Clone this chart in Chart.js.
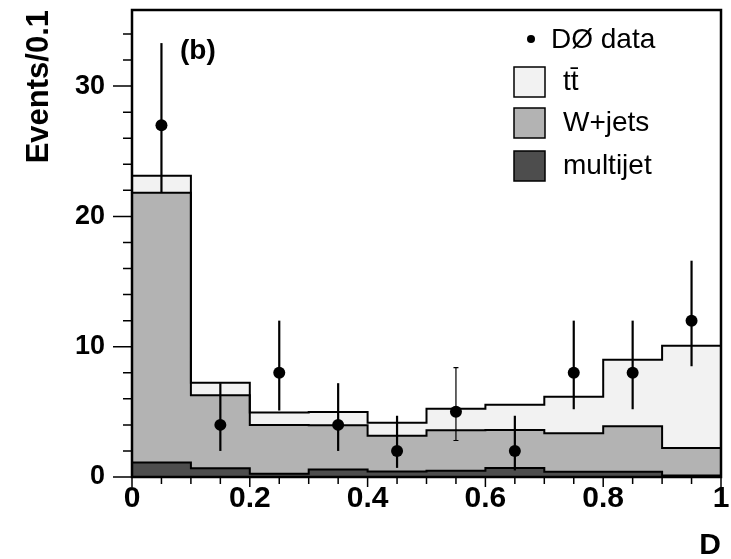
<!DOCTYPE html>
<html>
<head>
<meta charset="utf-8">
<script src="https://cdn.jsdelivr.net/npm/chart.js@4.4.0/dist/chart.umd.min.js"></script>
<style>
  body { margin: 0; background: #fff; }
</style>
</head>
<body>
<canvas id="chart" width="731" height="559"></canvas>
<script>
// bins of the discriminant D
const binEdges = [0, 0.1, 0.2, 0.3, 0.4, 0.5, 0.6, 0.7, 0.8, 0.9, 1.0];
const binCenters = [0.05, 0.15, 0.25, 0.35, 0.45, 0.55, 0.65, 0.75, 0.85, 0.95];

// predicted contributions per bin (stacked: multijet, W+jets, ttbar)
const multijet = [1.12, 0.68, 0.25, 0.58, 0.42, 0.48, 0.7, 0.4, 0.4, 0.12];
const wjets = [20.7, 5.6, 3.75, 3.4, 2.75, 3.1, 2.9, 2.95, 3.5, 2.1];
const ttbar = [1.3, 0.95, 0.95, 1.0, 1.0, 1.65, 1.95, 2.8, 5.1, 7.85];

// D0 data with error bar ends
const dataCounts = [27, 4, 8, 4, 2, 5, 2, 8, 8, 12];
const dataUp = [33.3, 7.2, 12.0, 7.2, 4.7, 8.4, 4.7, 12.0, 12.0, 16.6];
const dataDown = [21.8, 2.0, 5.1, 2.0, 0.7, 2.8, 0.5, 5.2, 5.2, 8.5];
const thinErrorBins = [5];

const yTickValues = [0, 10, 20, 30];
const xTickValues = [0, 0.2, 0.4, 0.6, 0.8, 1];

const colors = { ttbar: '#f2f2f2', wjets: '#b3b3b3', multijet: '#4d4d4d' };

function addUp(a, b) {
  return a.map((v, i) => v + b[i]);
}
const mjTop = multijet;
const wTop = addUp(mjTop, wjets);
const ttTop = addUp(wTop, ttbar);

// points at left bin edges, plus the right edge of the last bin
function stepPoints(vals) {
  return binEdges.map((x, i) => ({ x: x, y: vals[Math.min(i, vals.length - 1)] }));
}

function histo(label, vals, color, fill, order) {
  return {
    type: 'line',
    label: label,
    data: stepPoints(vals),
    stepped: 'before',
    borderColor: '#000',
    borderWidth: 2,
    backgroundColor: color,
    fill: fill,
    pointRadius: 0,
    order: order
  };
}

const extras = {
  id: 'extras',
  afterDatasetsDraw(chart) {
    const { ctx, scales: { x, y } } = chart;
    ctx.save();
    ctx.strokeStyle = '#000';
    binCenters.forEach((c, i) => {
      const px = x.getPixelForValue(c);
      const y1 = y.getPixelForValue(dataUp[i]);
      const y2 = y.getPixelForValue(dataDown[i]);
      const thin = thinErrorBins.includes(i);
      ctx.lineWidth = thin ? 1.2 : 2.2;
      ctx.beginPath();
      ctx.moveTo(px, y1);
      ctx.lineTo(px, y2);
      if (thin) {
        ctx.moveTo(px - 2.5, y1); ctx.lineTo(px + 2.5, y1);
        ctx.moveTo(px - 2.5, y2); ctx.lineTo(px + 2.5, y2);
      }
      ctx.stroke();
    });
    ctx.restore();
  },
  afterDraw(chart) {
    const { ctx, chartArea: a, scales: { x, y } } = chart;
    ctx.save();
    ctx.strokeStyle = '#000';

    // tick marks
    ctx.lineWidth = 1.5;
    ctx.beginPath();
    for (let v = 0; v <= 34; v += 2) {
      const py = y.getPixelForValue(v);
      const len = v % 10 === 0 ? 19 : 9;
      ctx.moveTo(a.left - len, py);
      ctx.lineTo(a.left, py);
    }
    for (let k = 0; k <= 20; k++) {
      const px = x.getPixelForValue(k * 0.05);
      const len = k % 4 === 0 ? 10 : 7;
      ctx.moveTo(px, a.bottom);
      ctx.lineTo(px, a.bottom + len);
    }
    ctx.stroke();

    // frame
    ctx.lineWidth = 2.5;
    ctx.strokeRect(a.left, a.top, a.right - a.left, a.bottom - a.top);

    // panel label
    ctx.fillStyle = '#000';
    ctx.font = 'bold 28px "Liberation Sans", Arial, sans-serif';
    ctx.textBaseline = 'middle';
    ctx.textAlign = 'left';
    ctx.fillText('(b)', a.left + 48, a.top + 41);

    // legend
    ctx.font = '28px "Liberation Sans", Arial, sans-serif';
    ctx.beginPath();
    ctx.arc(a.right - 190, a.top + 29, 4, 0, Math.PI * 2);
    ctx.fill();
    ctx.fillText('DØ data', a.right - 170, a.top + 30);

    const rows = [
      { ds: chart.data.datasets[2], top: 57 },
      { ds: chart.data.datasets[1], top: 98 },
      { ds: chart.data.datasets[0], top: 141 }
    ];
    const bx = a.right - 207;
    rows.forEach(r => {
      ctx.fillStyle = r.ds.backgroundColor;
      ctx.fillRect(bx, a.top + r.top, 31, 30);
      ctx.lineWidth = 1.5;
      ctx.strokeRect(bx, a.top + r.top, 31, 30);
      ctx.fillStyle = '#000';
      ctx.fillText(r.ds.label, bx + 49, a.top + r.top + 15);
    });
    ctx.restore();
  }
};

new Chart(document.getElementById('chart'), {
  data: {
    datasets: [
      histo('multijet', mjTop, colors.multijet, 'origin', 3),
      histo('W+jets', wTop, colors.wjets, '-1', 2),
      histo('tt\u0304', ttTop, colors.ttbar, '-1', 1),
      {
        type: 'scatter',
        label: 'DØ data',
        data: binCenters.map((c, i) => ({ x: c, y: dataCounts[i] })),
        pointRadius: 6,
        pointBackgroundColor: '#000',
        pointBorderWidth: 0,
        order: 0
      }
    ]
  },
  options: {
    responsive: false,
    animation: false,
    layout: { padding: { left: 0, right: 10, top: 10, bottom: 0 } },
    plugins: {
      legend: { display: false },
      tooltip: { enabled: false },
      filler: { drawTime: 'beforeDatasetsDraw' }
    },
    scales: {
      x: {
        type: 'linear',
        min: 0,
        max: 1,
        afterFit: s => {
          s.height = 82;
          s.paddingLeft = 0;
          s.paddingRight = 0;
        },
        afterBuildTicks: s => { s.ticks = xTickValues.map(v => ({ value: v })); },
        grid: { display: false, drawTicks: false },
        border: { display: false },
        ticks: {
          padding: 4,
          color: '#000',
          callback: v => String(v),
          font: { family: '"Liberation Sans", Arial, sans-serif', size: 30, weight: 'bold' }
        },
        title: {
          display: true,
          text: 'D',
          align: 'end',
          color: '#000',
          padding: { top: 0, bottom: -5 },
          font: { family: '"Liberation Sans", Arial, sans-serif', size: 30, weight: 'bold' }
        }
      },
      y: {
        min: 0,
        max: 35.84,
        afterFit: s => {
          s.width = 132;
          s.paddingTop = 0;
          s.paddingBottom = 0;
        },
        afterBuildTicks: s => { s.ticks = yTickValues.map(v => ({ value: v })); },
        grid: { display: false, drawTicks: false },
        border: { display: false },
        ticks: {
          padding: 27,
          color: '#000',
          font: { family: '"Liberation Sans", Arial, sans-serif', size: 27, weight: 'bold' }
        },
        title: {
          display: true,
          text: 'Events/0.1',
          align: 'end',
          color: '#000',
          padding: { top: 21, bottom: 0 },
          font: { family: '"Liberation Sans", Arial, sans-serif', size: 31, weight: 'bold' }
        }
      }
    }
  },
  plugins: [extras]
});
</script>
</body>
</html>
